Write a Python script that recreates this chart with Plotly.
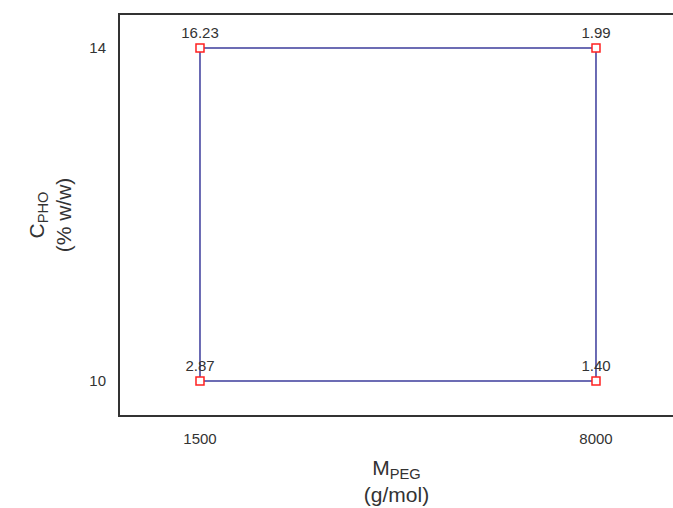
import plotly.graph_objects as go

# Data
m_peg = [1500, 1500, 8000, 8000]          # g/mol
c_pho = [10, 14, 14, 10]                   # % w/w
responses = ["2.87", "16.23", "1.99", "1.40"]
x_ticks = [1500, 8000]
y_ticks = [10, 14]

# closed outline path
path_x = m_peg + [m_peg[0]]
path_y = c_pho + [c_pho[0]]

FONT = "Liberation Sans, Arial"
fig = go.Figure()
fig.add_trace(go.Scatter(
    x=path_x, y=path_y, mode="lines",
    line=dict(color="#3c3c9c", width=1.5),
    hoverinfo="skip", showlegend=False,
))
fig.add_trace(go.Scatter(
    x=m_peg, y=c_pho, mode="markers+text",
    marker=dict(symbol="square", size=8, color="white", line=dict(width=1.5, color="#ff2020")),
    text=responses, textposition="top center",
    textfont=dict(family=FONT, size=15, color="#333333"),
    showlegend=False,
))

axis_font = dict(family=FONT, size=15, color="#333333")
fig.update_layout(
    width=673, height=508,
    margin=dict(l=120, r=0, t=15, b=93),
    paper_bgcolor="white", plot_bgcolor="white",
    font=dict(family=FONT, color="#333333"),
    xaxis=dict(
        range=[187, 9264], tickvals=x_ticks, ticktext=[str(v) for v in x_ticks],
        showgrid=False, zeroline=False, showline=True, mirror=True,
        linecolor="#333333", linewidth=2, ticks="", tickfont=axis_font,
        ticklabelstandoff=9,
        title=dict(text="M<sub>PEG</sub><br>(g/mol)", font=dict(family=FONT, size=21, color="#333333"), standoff=14),
    ),
    yaxis=dict(
        range=[9.592, 14.396], tickvals=y_ticks, ticktext=[str(v) for v in y_ticks],
        showgrid=False, zeroline=False, showline=True, mirror=False,
        linecolor="#333333", linewidth=2, ticks="", tickfont=axis_font,
        ticklabelstandoff=9,
        title=dict(text="C<sub>PHO</sub><br>(% w/w)", font=dict(family=FONT, size=21, color="#333333"), standoff=12),
    ),
)
fig.write_html("out.html", config={"displayModeBar": False},
               post_script="document.body.style.margin='0';")
